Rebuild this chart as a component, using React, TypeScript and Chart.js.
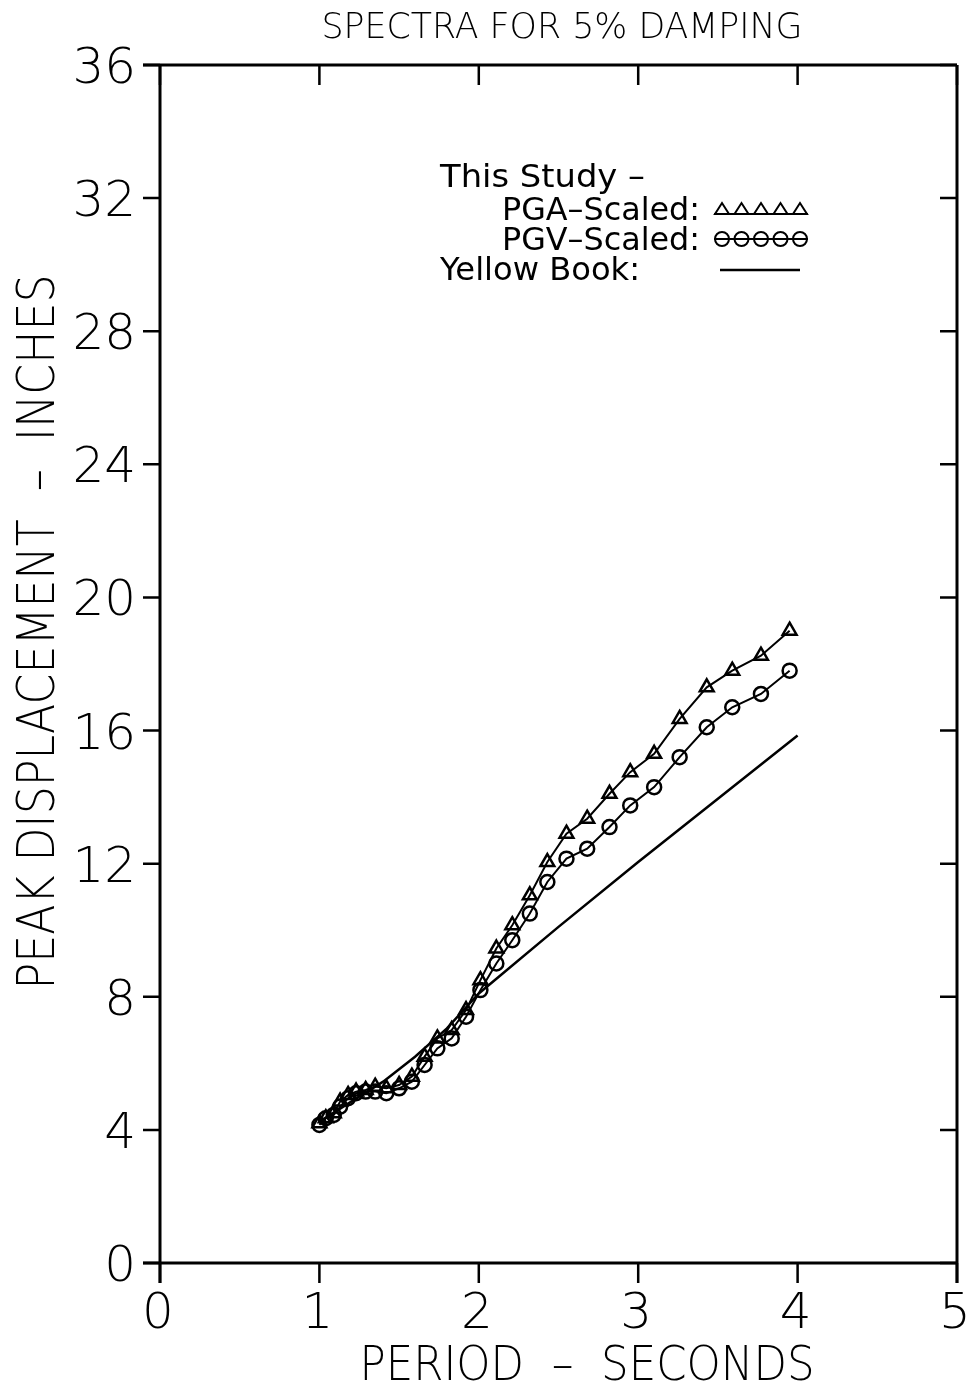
import React, { useEffect, useRef } from "react";
import { Chart, registerables } from "chart.js";

Chart.register(...registerables);

const periods = [1.0, 1.04, 1.09, 1.13, 1.18, 1.23, 1.29, 1.35, 1.42, 1.5, 1.58, 1.66, 1.74, 1.83, 1.92, 2.01, 2.11, 2.21, 2.32, 2.43, 2.55, 2.68, 2.82, 2.95, 3.1, 3.26, 3.43, 3.59, 3.77, 3.95];
const pgaScaled = [4.2, 4.35, 4.5, 4.85, 5.05, 5.15, 5.2, 5.3, 5.25, 5.35, 5.6, 6.2, 6.75, 7.0, 7.6, 8.5, 9.45, 10.15, 11.05, 12.05, 12.9, 13.35, 14.1, 14.75, 15.3, 16.35, 17.3, 17.8, 18.25, 19.0];
const pgvScaled = [4.15, 4.35, 4.45, 4.7, 4.95, 5.1, 5.15, 5.15, 5.1, 5.25, 5.45, 5.95, 6.45, 6.75, 7.4, 8.2, 9.0, 9.7, 10.5, 11.45, 12.15, 12.45, 13.1, 13.75, 14.3, 15.2, 16.1, 16.7, 17.1, 17.8];
const yellowPeriods = [1.0, 1.2, 1.4, 1.6, 1.8, 2.0, 2.5, 3.0, 3.5, 4.0];
const yellowBook = [4.25, 4.85, 5.45, 6.2, 7.05, 8.1, 10.1, 12.05, 13.95, 15.85];

const xTicks = [0, 1, 2, 3, 4, 5];
const yTicks = [0, 4, 8, 12, 16, 20, 24, 28, 32, 36];

const titleText = "SPECTRA FOR 5% DAMPING";
const xTitle = "PERIOD  \u2013  SECONDS";
const yTitle = "PEAK DISPLACEMENT  \u2013  INCHES";
const legendHeader = "This Study \u2013";
const legendPGA = "PGA\u2013Scaled:";
const legendPGV = "PGV\u2013Scaled:";
const legendYB = "Yellow Book:";

const FONT = "'DejaVu Sans', 'Liberation Sans', sans-serif";

function drawStretched(
  ctx: CanvasRenderingContext2D,
  text: string,
  x: number,
  baseline: number,
  width: number,
  size: number,
  align: "left" | "center",
  rotate = 0,
  weight = "200"
) {
  ctx.save();
  ctx.font = `${weight} ${size}px ${FONT}`;
  const m = ctx.measureText(text).width;
  const s = width / m;
  ctx.translate(x, baseline);
  if (rotate) ctx.rotate(rotate);
  ctx.scale(s, 1);
  ctx.textAlign = align;
  ctx.textBaseline = "alphabetic";
  ctx.fillStyle = "#000";
  ctx.fillText(text, 0, 0);
  ctx.restore();
}

const framePlugin = {
  id: "framePlugin",
  afterDraw(chart: any) {
    const ctx: CanvasRenderingContext2D = chart.ctx;
    const xs = chart.scales.x;
    const ys = chart.scales.y;
    const L = xs.getPixelForValue(0);
    const R = xs.getPixelForValue(5);
    const T = ys.getPixelForValue(36);
    const B = ys.getPixelForValue(0);
    ctx.save();
    ctx.strokeStyle = "#000";
    ctx.lineWidth = 3;
    ctx.lineCap = "butt";
    ctx.beginPath();
    ctx.moveTo(L - 17, T); ctx.lineTo(R, T);
    ctx.moveTo(L - 17, B); ctx.lineTo(R, B);
    ctx.moveTo(L, T); ctx.lineTo(L, B + 20);
    ctx.moveTo(R, T); ctx.lineTo(R, B + 20);
    ctx.stroke();
    ctx.lineWidth = 2.5;
    ctx.beginPath();
    for (const v of xTicks) {
      const px = xs.getPixelForValue(v);
      ctx.moveTo(px, T); ctx.lineTo(px, T + 20);
      ctx.moveTo(px, B); ctx.lineTo(px, B + 20);
    }
    for (const v of yTicks) {
      const py = ys.getPixelForValue(v);
      ctx.moveTo(L - 17, py); ctx.lineTo(L, py);
      ctx.moveTo(R - 17, py); ctx.lineTo(R, py);
    }
    ctx.stroke();

    // tick labels
    ctx.fillStyle = "#000";
    ctx.font = `200 50px ${FONT}`;
    ctx.textBaseline = "alphabetic";
    ctx.textAlign = "right";
    for (const v of yTicks) {
      const py = ys.getPixelForValue(v);
      ctx.fillText(String(v), L - 24, py + 18);
    }
    ctx.textAlign = "center";
    for (const v of xTicks) {
      const px = xs.getPixelForValue(v);
      ctx.fillText(String(v), px - 2, B + 65);
    }

    // titles
    drawStretched(ctx, titleText, 562, 38, 481, 36, "center");
    drawStretched(ctx, xTitle, 587, 1380, 455, 48, "center");
    drawStretched(ctx, yTitle, 54, 632, 715, 52, "center", -Math.PI / 2);

    // legend
    drawStretched(ctx, legendHeader, 440, 187, 205, 32, "left", 0, "normal");
    drawStretched(ctx, legendPGA, 502, 220, 198, 32, "left", 0, "normal");
    drawStretched(ctx, legendPGV, 502, 250, 198, 32, "left", 0, "normal");
    drawStretched(ctx, legendYB, 440, 280, 200, 32, "left", 0, "normal");

    ctx.lineWidth = 2;
    // PGA sample
    const sx0 = 722, sx1 = 800;
    ctx.beginPath();
    ctx.moveTo(sx0 - 8, 214); ctx.lineTo(sx1 + 8, 214);
    ctx.stroke();
    for (let i = 0; i < 5; i++) {
      const cx = sx0 + (i * (sx1 - sx0)) / 4;
      ctx.beginPath();
      ctx.moveTo(cx - 7, 214);
      ctx.lineTo(cx + 7, 214);
      ctx.lineTo(cx, 203);
      ctx.closePath();
      ctx.stroke();
    }
    // PGV sample
    ctx.beginPath();
    ctx.moveTo(sx0 - 8, 239); ctx.lineTo(sx1 + 8, 239);
    ctx.stroke();
    for (let i = 0; i < 5; i++) {
      const cx = sx0 + (i * (sx1 - sx0)) / 4;
      ctx.beginPath();
      ctx.arc(cx, 239, 7, 0, Math.PI * 2);
      ctx.stroke();
    }
    // Yellow book sample
    ctx.lineWidth = 2.5;
    ctx.beginPath();
    ctx.moveTo(720, 270); ctx.lineTo(800, 270);
    ctx.stroke();
    ctx.restore();
  },
};

export default function App() {
  const ref = useRef<HTMLCanvasElement | null>(null);
  useEffect(() => {
    if (!ref.current) return;
    const chart = new Chart(ref.current, {
      type: "line",
      data: {
        datasets: [
          {
            label: "PGA-Scaled",
            data: periods.map((p, i) => ({ x: p, y: pgaScaled[i] })),
            borderColor: "#000",
            borderWidth: 2,
            pointStyle: "triangle",
            pointRadius: 8,
            pointBorderWidth: 2.5,
            pointBorderColor: "#000",
            pointBackgroundColor: "rgba(0,0,0,0)",
            tension: 0,
          },
          {
            label: "PGV-Scaled",
            data: periods.map((p, i) => ({ x: p, y: pgvScaled[i] })),
            borderColor: "#000",
            borderWidth: 2,
            pointStyle: "circle",
            pointRadius: 7,
            pointBorderWidth: 2.5,
            pointBorderColor: "#000",
            pointBackgroundColor: "rgba(0,0,0,0)",
            tension: 0,
          },
          {
            label: "Yellow Book",
            data: yellowPeriods.map((p, i) => ({ x: p, y: yellowBook[i] })),
            borderColor: "#000",
            borderWidth: 2.5,
            pointRadius: 0,
            tension: 0,
          },
        ],
      },
      options: {
        animation: false,
        responsive: false,
        maintainAspectRatio: false,
        devicePixelRatio: 1,
        layout: { padding: { left: 160, right: 16, top: 65, bottom: 124 } },
        plugins: { legend: { display: false }, tooltip: { enabled: false }, title: { display: false } },
        scales: {
          x: { type: "linear", min: 0, max: 5, display: false },
          y: { type: "linear", min: 0, max: 36, display: false },
        },
      },
      plugins: [framePlugin],
    });
    return () => chart.destroy();
  }, []);
  return (
    <div style={{ position: "absolute", left: 0, top: 0, width: 973, height: 1387, background: "#fff" }}>
      <canvas ref={ref} width={973} height={1387} style={{ width: 973, height: 1387, display: "block" }} />
    </div>
  );
}
